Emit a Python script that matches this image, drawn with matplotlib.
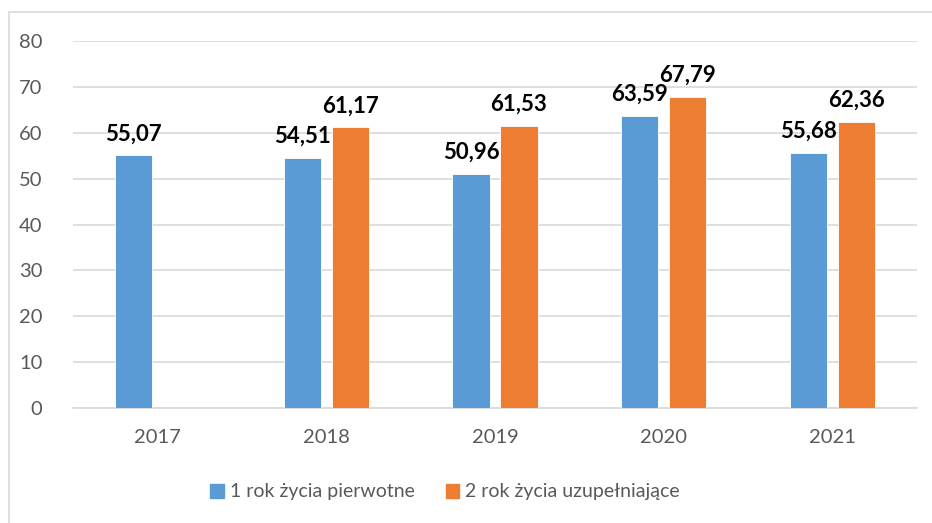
import numpy as np
import matplotlib.pyplot as plt
from matplotlib.patches import Rectangle, Patch

years = ['2017', '2018', '2019', '2020', '2021']
first_year = [55.07, 54.51, 50.96, 63.59, 55.68]
second_year = [np.nan, 61.17, 61.53, 67.79, 62.36]
series_names = ['1 rok życia pierwotne', '2 rok życia uzupełniające']
y_ticks = [0, 10, 20, 30, 40, 50, 60, 70, 80]

blue = '#5B9BD5'
orange = '#ED7D31'
text_grey = '#595959'
grid_grey = '#D9D9D9'

plt.rcParams['font.family'] = ['Lato', 'DejaVu Sans']

fig = plt.figure(figsize=(9.32, 5.23), dpi=100)
ax = fig.add_axes([73 / 932, 115 / 523, (917 - 73) / 932, (482 - 115) / 523])

# outer chart border like in Excel
fig.patches.append(Rectangle((9 / 932, -0.05), 1.1, 1.05 - 12 / 523,
                             transform=fig.transFigure, fill=False,
                             edgecolor=grid_grey, linewidth=1.2))

x = np.arange(len(years))
w = 0.22
off = 0.142
b1 = ax.bar(x - off, first_year, w, color=blue, edgecolor='white', linewidth=0.6, zorder=3)
b2 = ax.bar(x + off, second_year, w, color=orange, edgecolor='white', linewidth=0.6, zorder=3)

for bars, vals in ((b1, first_year), (b2, second_year)):
    for bar, v in zip(bars, vals):
        if np.isnan(v):
            continue
        ax.annotate(f'{v:.2f}'.replace('.', ','),
                    (bar.get_x() + bar.get_width() / 2, v),
                    xytext=(0, 8), textcoords='offset points',
                    ha='center', va='bottom', fontsize=16,
                    fontweight='bold', color='black')

ax.set_xlim(-0.5, len(years) - 0.5)
ax.set_ylim(0, 80)
ax.set_yticks(y_ticks)
ax.set_xticks(x)
ax.set_xticklabels(years)
ax.tick_params(axis='y', length=0, pad=22, labelsize=14.5, labelcolor=text_grey)
ax.tick_params(axis='x', length=0, pad=15, labelsize=14.5, labelcolor=text_grey)
ax.grid(axis='y', color=grid_grey, linewidth=1.2, zorder=0)
for s in ['top', 'right', 'left']:
    ax.spines[s].set_visible(False)
ax.spines['bottom'].set_color(grid_grey)
ax.spines['bottom'].set_linewidth(1.2)

handles = [Patch(color=blue, label=series_names[0]),
           Patch(color=orange, label=series_names[1])]
leg = fig.legend(handles=handles, loc='center', bbox_to_anchor=(445 / 932, 1 - 492 / 523),
                 ncol=2, frameon=False, fontsize=14, handlelength=0.7,
                 handleheight=0.7, handletextpad=0.3, columnspacing=1.6)
for t in leg.get_texts():
    t.set_color(text_grey)

fig.savefig('out.png', dpi=100)
